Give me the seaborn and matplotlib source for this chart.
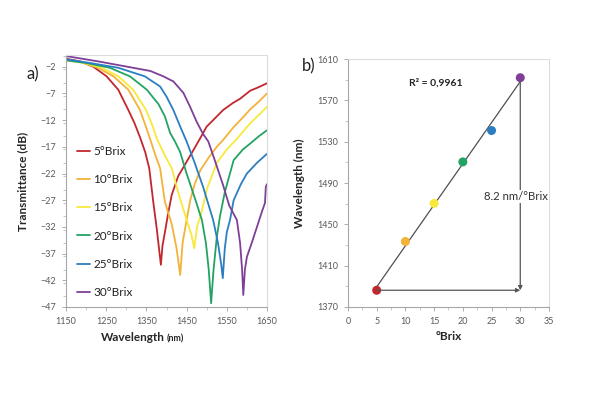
import numpy as np
import pandas as pd
import matplotlib
matplotlib.use("Agg")
import matplotlib.pyplot as plt
from matplotlib.ticker import MultipleLocator, AutoMinorLocator
import seaborn as sns

# ------------------------------------------------------------
# Data
# ------------------------------------------------------------
labels = ["5°Brix", "10°Brix", "15°Brix", "20°Brix", "25°Brix", "30°Brix"]
colors = ["#C1272D", "#F3B23A", "#F7EA3A", "#23A363", "#2B7EC1", "#7E3F98"]

wl_5 = [1150, 1185, 1218, 1251, 1280, 1305, 1320, 1334, 1347, 1357, 1367, 1376, 1382, 1386,
        1390, 1396, 1404, 1413, 1429, 1450, 1467, 1483, 1500, 1516, 1541, 1565, 1583, 1608, 1630, 1650]
tr_5 = [-0.5, -1.0, -2.0, -3.8, -6.3, -10.1, -12.5, -15.2, -18.0, -21.0, -27.3, -32.5, -36.5, -39.1,
        -35.5, -33.0, -29.5, -26.0, -22.5, -19.8, -17.6, -15.5, -13.2, -12.0, -10.1, -8.8, -8.0, -6.5, -5.8, -5.1]

wl_10 = [1150, 1190, 1230, 1268, 1305, 1334, 1350, 1359, 1372, 1384, 1396, 1413, 1425, 1434,
         1440, 1450, 1459, 1470, 1484, 1505, 1525, 1541, 1567, 1590, 1608, 1630, 1650]
tr_10 = [-0.7, -1.2, -2.2, -3.8, -6.3, -10.1, -13.5, -15.5, -18.5, -21.0, -27.3, -31.5, -36.0, -41.0,
         -35.0, -30.7, -27.0, -24.0, -21.4, -19.0, -17.0, -15.7, -13.3, -11.5, -10.0, -8.5, -7.0]

wl_15 = [1150, 1195, 1239, 1280, 1317, 1349, 1365, 1376, 1395, 1413, 1429, 1450, 1462, 1469,
         1476, 1488, 1500, 1525, 1550, 1575, 1608, 1630, 1650]
tr_15 = [-0.8, -1.3, -2.2, -3.8, -6.3, -10.1, -13.0, -15.5, -18.5, -21.0, -25.5, -30.7, -33.5, -36.0,
         -32.0, -29.0, -25.0, -20.0, -17.5, -15.5, -12.6, -11.0, -9.5]

wl_20 = [1150, 1200, 1259, 1309, 1351, 1380, 1396, 1409, 1421, 1434, 1450, 1470, 1488, 1498, 1505, 1511,
         1517, 1525, 1533, 1545, 1567, 1590, 1608, 1630, 1650]
tr_20 = [-0.8, -1.3, -2.2, -3.8, -6.3, -9.0, -11.3, -14.4, -16.0, -18.0, -22.0, -26.5, -30.7, -35.0, -40.0, -46.3,
         -40.0, -34.0, -30.0, -25.5, -19.5, -17.5, -16.4, -15.0, -13.9]

wl_25 = [1150, 1210, 1280, 1346, 1384, 1400, 1417, 1434, 1450, 1470, 1491, 1516, 1528, 1536, 1540,
         1545, 1550, 1558, 1567, 1585, 1600, 1625, 1650]
tr_25 = [-0.6, -1.3, -2.2, -3.8, -5.7, -7.6, -10.1, -13.2, -16.0, -20.0, -24.5, -30.7, -35.0, -39.0, -41.6,
         -36.0, -33.0, -30.7, -27.0, -24.0, -22.0, -20.0, -18.3]

wl_30 = [1150, 1230, 1317, 1360, 1392, 1417, 1442, 1458, 1475, 1491, 1504, 1520, 1540, 1556, 1575, 1583, 1588, 1591,
         1595, 1600, 1612, 1625, 1638, 1645, 1647, 1650]
tr_30 = [0.0, -1.0, -2.2, -2.8, -3.8, -4.75, -6.9, -9.4, -12.3, -14.6, -16.0, -19.5, -24.0, -28.0, -30.7, -35.0, -40.0, -44.75,
         -40.0, -37.6, -35.0, -32.0, -29.0, -27.5, -24.5, -24.0]

# peak wavelength vs sugar content (panel b)
brix = [5, 10, 15, 20, 25, 30]
peak_nm = [1386.2, 1433.4, 1470.3, 1510.4, 1540.8, 1591.9]

# ------------------------------------------------------------
# Long-form tables for seaborn
# ------------------------------------------------------------
spectra = pd.concat([
    pd.DataFrame({"wl": w, "tr": t, "sample": lab})
    for w, t, lab in zip([wl_5, wl_10, wl_15, wl_20, wl_25, wl_30],
                         [tr_5, tr_10, tr_15, tr_20, tr_25, tr_30], labels)
], ignore_index=True)
peaks = pd.DataFrame({"brix": brix, "peak": peak_nm, "sample": labels})

sns.set_style("white")
plt.rcParams["font.family"] = ["Lato", "DejaVu Sans"]
tick_col = "#595959"

fig = plt.figure(figsize=(5.91, 3.95), dpi=100)
ax1 = fig.add_axes([0.1117, 0.2228, 0.3401, 0.638])
ax2 = fig.add_axes([0.5888, 0.2228, 0.3401, 0.6278])

# ---------------- panel a ----------------
sns.lineplot(data=spectra, x="wl", y="tr", hue="sample", palette=colors,
             sort=False, estimator=None, linewidth=1.3, ax=ax1)
ax1.set_xlim(1150, 1650)
ax1.set_ylim(-47, 0.2)
ax1.set_xticks(np.arange(1150, 1651, 100))
ax1.set_yticks(np.arange(-47, 0, 5))
ax1.xaxis.set_minor_locator(MultipleLocator(50))
ax1.yaxis.set_minor_locator(MultipleLocator(2.5))
ax1.set_xlabel("")
ax1.set_ylabel("Transmittance (dB)", fontsize=8.5, fontweight="bold", labelpad=9)
ax1.text(0.49, -0.12, "Wavelength", transform=ax1.transAxes, ha="right", va="center",
         fontsize=8.5, fontweight="bold")
ax1.text(0.5, -0.125, "(nm)", transform=ax1.transAxes, ha="left", va="center",
         fontsize=6.5, fontweight="bold")
leg = ax1.legend(loc="upper left", bbox_to_anchor=(0.0, 0.68), frameon=False,
                 fontsize=8.5, handlelength=1.1, handletextpad=0.3, labelspacing=1.45)
for t in leg.get_texts():
    t.set_color("#222222")
fig.text(0.045, 0.80, "a)", fontsize=12, color="#222222")

# ---------------- panel b ----------------
sns.regplot(data=peaks, x="brix", y="peak", ci=None, scatter=False, truncate=True,
            line_kws={"color": "#505050", "linewidth": 0.9}, ax=ax2)
sns.scatterplot(data=peaks, x="brix", y="peak", hue="sample", palette=colors,
                s=42, edgecolor="none", legend=False, ax=ax2, zorder=3)
ax2.annotate("", xy=(brix[-1], peak_nm[0]), xytext=(brix[0], peak_nm[0]),
             arrowprops=dict(arrowstyle="-|>", color="#555555", lw=0.9,
                             mutation_scale=6, shrinkA=0, shrinkB=0))
ax2.annotate("", xy=(brix[-1], peak_nm[0]), xytext=(brix[-1], peak_nm[-1] - 4),
             arrowprops=dict(arrowstyle="-|>", color="#555555", lw=0.9,
                             mutation_scale=6, shrinkA=0, shrinkB=0))
ax2.text(29.2, 1477, "8.2 nm/°Brix", ha="center", va="center", fontsize=8.2,
         color="#333333", bbox=dict(facecolor="white", edgecolor="none", pad=1))
ax2.text(15.3, 1587, "R² = 0,9961", ha="center", va="center", fontsize=7.5,
         fontweight="bold", color="#222222")
ax2.set_xlim(0, 35)
ax2.set_ylim(1370, 1610)
ax2.set_xticks(np.arange(0, 36, 5))
ax2.set_yticks(np.arange(1370, 1611, 40))
ax2.xaxis.set_minor_locator(AutoMinorLocator(2))
ax2.yaxis.set_minor_locator(AutoMinorLocator(2))
ax2.set_xlabel("°Brix", fontsize=8.5, fontweight="bold", labelpad=4)
ax2.set_ylabel("Wavelength (nm)", fontsize=8.5, fontweight="bold", labelpad=9)
fig.text(0.51, 0.82, "b)", fontsize=12, color="#222222")

for ax in (ax1, ax2):
    ax.tick_params(which="major", labelsize=6.5, labelcolor=tick_col, length=3,
                   color="#a0a0a0", width=0.6, direction="out", pad=4)
    ax.tick_params(which="minor", length=2, color="#b0b0b0", width=0.5, direction="out")
    ax.tick_params(axis="x", which="both", bottom=True)
    ax.tick_params(axis="y", which="both", left=True)
    for side in ("top", "right"):
        ax.spines[side].set_color("#dcdcdc")
        ax.spines[side].set_linewidth(0.8)
    for side in ("left", "bottom"):
        ax.spines[side].set_color("#a6a6a6")
        ax.spines[side].set_linewidth(0.8)

fig.savefig("out.png", dpi=100)
